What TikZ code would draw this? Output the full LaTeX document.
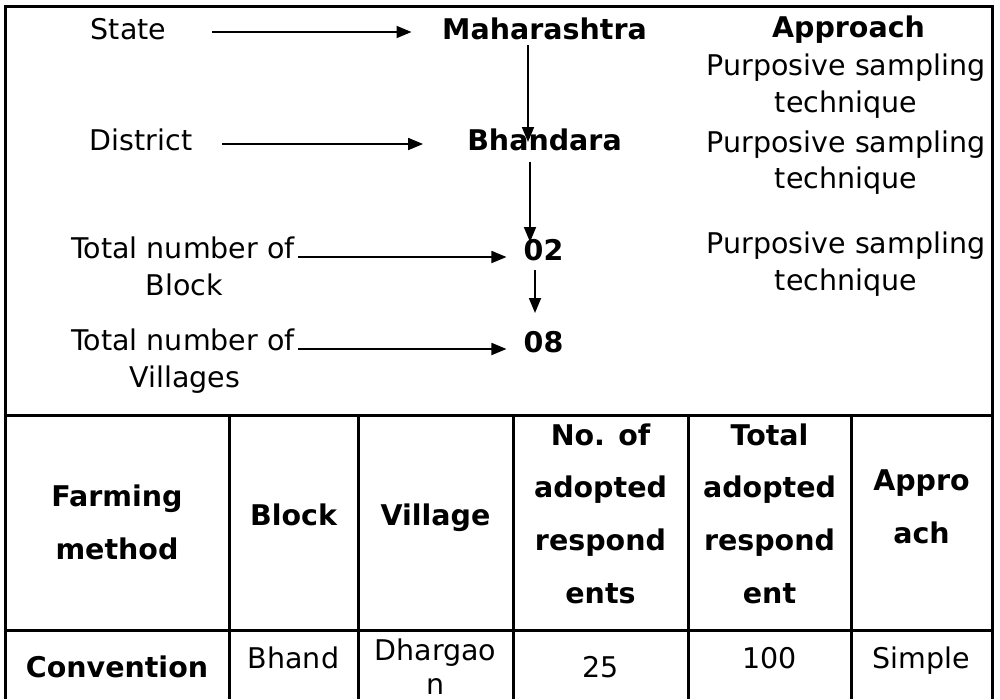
\documentclass[tikz,border=0pt]{standalone}
\usepackage{fontspec}
\setmainfont{DejaVu Sans}
\usetikzlibrary{arrows.meta}
\begin{document}
\begin{tikzpicture}[x=1pt,y=-1pt,
  txt/.style={anchor=base,inner sep=0pt,font=\fontsize{28.5}{34}\selectfont},
  btxt/.style={anchor=base,inner sep=0pt,font=\fontsize{28.5}{34}\selectfont\bfseries},
  arr/.style={line width=1.8pt,-{Triangle[length=15pt,width=12pt]}},
  gridline/.style={line width=3pt}]
\useasboundingbox (0,0) rectangle (1000,699);
% frame and table
\draw[gridline] (5,699) -- (5,6) -- (992,6) -- (992,699);
\draw[gridline] (5,415) -- (992,415);
\draw[gridline] (5,630) -- (992,630);
\foreach \x in {229,358,513,688,851} \draw[gridline] (\x,415) -- (\x,699);
% upper flow
\node[txt] (state) at (128.5,39) {State};
\node[txt] (dist) at (141,150) {District};
\node[btxt] (mah) at (544.5,39) {Maharashtra};
\node[btxt] (bha) at (544.5,150) {Bhandara};
\node[txt] (tn1) at (183,258) {Total number of};
\node[txt] (blk) at (184.5,295) {Block};
\node[txt] (tn2) at (183,350) {Total number of};
\node[txt] (vil) at (185,387) {Villages};
\node[btxt] (n02) at (543.5,260) {02};
\node[btxt] (n08) at (543.5,352) {08};
\node[btxt] (appr) at (848.5,37) {Approach};
\node[txt] (ps1) at (846,75) {Purposive sampling};
\node[txt] (te1) at (846,112) {technique};
\node[txt] (ps2) at (846,152) {Purposive sampling};
\node[txt] (te2) at (846,188) {technique};
\node[txt] (ps3) at (846,253) {Purposive sampling};
\node[txt] (te3) at (846,290) {technique};
% arrows
\draw[arr] ([xshift=46pt,yshift=7pt]state.base east) -- ([xshift=-30.5pt,yshift=7pt]mah.base west);
\draw[arr] ([xshift=30pt,yshift=6pt]dist.base east) -- ([xshift=-44pt,yshift=6pt]bha.base west);
\draw[arr] ([xshift=3pt,yshift=1pt]tn1.base east) -- ([xshift=-17pt,yshift=3pt]n02.base west);
\draw[arr] ([xshift=3pt,yshift=1pt]tn2.base east) -- ([xshift=-17pt,yshift=3pt]n08.base west);
\draw[arr] ([xshift=-16.5pt,yshift=-6pt]mah.base) -- ([xshift=-16.5pt,yshift=8pt]bha.base);
\draw[arr] ([xshift=-14.5pt,yshift=-12pt]bha.base) -- ([xshift=-13.5pt,yshift=18pt]n02.base);
\draw[arr] ([xshift=-8.5pt,yshift=-10pt]n02.base) -- ([xshift=-8.5pt,yshift=39pt]n08.base);
% table header
\node[btxt] (h1a) at (117,506) {Farming};
\node[btxt] (h1b) at (117,559) {method};
\node[btxt] (h2) at (293.5,525) {Block};
\node[btxt] (h3) at (435.5,525) {Village};
\node[btxt] (h4a) at (600.5,445) {No. of};
\node[btxt] (h4b) at (600.5,497) {adopted};
\node[btxt] (h4c) at (600.5,550) {respond};
\node[btxt] (h4d) at (600.5,603) {ents};
\node[btxt] (h5a) at (769.5,445) {Total};
\node[btxt] (h5b) at (769.5,497) {adopted};
\node[btxt] (h5c) at (769.5,550) {respond};
\node[btxt] (h5d) at (769.5,603) {ent};
\node[btxt] (h6a) at (921.5,490) {Appro};
\node[btxt] (h6b) at (921.5,543) {ach};
% table data
\node[btxt] (d1) at (117,677) {Convention};
\node[txt] (d2) at (293.5,668) {Bhand};
\node[txt] (d3a) at (435.5,660) {Dhargao};
\node[txt] (d3b) at (435.5,694) {n};
\node[txt] (d4) at (600.5,677) {25};
\node[txt] (d5) at (769.5,668) {100};
\node[txt] (d6) at (921.5,668) {Simple};
\end{tikzpicture}
\end{document}
